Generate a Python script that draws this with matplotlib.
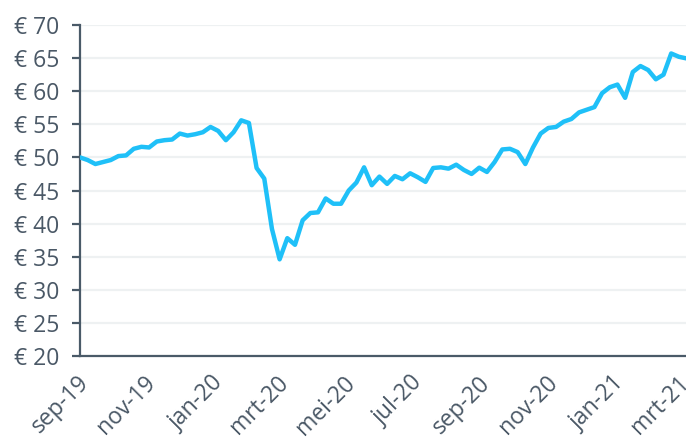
import matplotlib
matplotlib.use("Agg")
import matplotlib.pyplot as plt
import matplotlib.transforms as mtransforms
import pandas as pd

start_date = "2019-09-01"
prices = [
    50.0, 49.6, 49.0, 49.3, 49.6, 50.2, 50.3, 51.3, 51.6, 51.5,
    52.4, 52.6, 52.7, 53.6, 53.3, 53.5, 53.8, 54.6, 54.0, 52.6,
    53.8, 55.6, 55.2, 48.4, 46.8, 39.2, 34.6, 37.8, 36.8, 40.5,
    41.6, 41.7, 43.8, 43.0, 43.0, 45.0, 46.2, 48.5, 45.8, 47.1,
    46.0, 47.2, 46.7, 47.6, 47.0, 46.3, 48.4, 48.5, 48.3, 48.9,
    48.1, 47.5, 48.45, 47.8, 49.3, 51.2, 51.3, 50.8, 49.0, 51.5,
    53.6, 54.45, 54.6, 55.4, 55.8, 56.8, 57.2, 57.6, 59.7, 60.6,
    61.0, 59.0, 62.9, 63.8, 63.2, 61.8, 62.5, 65.7, 65.2, 64.95,
]
dates = pd.date_range(start_date, periods=len(prices), freq="7D")

tick_dates = pd.to_datetime([
    "2019-09-01", "2019-11-01", "2020-01-01", "2020-03-01", "2020-05-01",
    "2020-07-01", "2020-09-01", "2020-11-01", "2021-01-01", "2021-03-01",
])
tick_labels = ["sep-19", "nov-19", "jan-20", "mrt-20", "mei-20",
               "jul-20", "sep-20", "nov-20", "jan-21", "mrt-21"]
x_end = pd.Timestamp("2021-03-06 12:00")
y_ticks = [20, 25, 30, 35, 40, 45, 50, 55, 60, 65, 70]
y_labels = [f"€ {v}" for v in y_ticks]

plt.rcParams["font.family"] = ["Open Sans", "DejaVu Sans"]

fig = plt.figure(figsize=(6.86, 4.37), dpi=100)
ax = fig.add_axes([80 / 686, 1 - 356 / 437, 1 - 80 / 686, (356 - 25) / 437])

text_col = "#4a5866"
spine_col = "#4a5a68"

ax.plot(dates, prices, color="#1fc0f8", lw=3.2, solid_joinstyle="round",
        solid_capstyle="round", zorder=3, clip_on=True)

ax.set_xlim(tick_dates[0], x_end)
ax.set_ylim(20, 70)
ax.set_yticks(y_ticks)
ax.set_yticklabels(y_labels)
ax.set_xticks(tick_dates)
ax.set_xticklabels(tick_labels, rotation=45, ha="right", rotation_mode="anchor")

ax.grid(axis="y", color="#eef1f2", lw=1.6, zorder=0)
ax.grid(axis="x", visible=False)
ax.set_axisbelow(True)

for s in ["top", "right"]:
    ax.spines[s].set_visible(False)
for s in ["left", "bottom"]:
    ax.spines[s].set_color(spine_col)
    ax.spines[s].set_linewidth(1.6)

ax.tick_params(axis="y", length=6, width=1.6, color=spine_col, pad=9,
               labelsize=16.5, labelcolor=text_col)
ax.tick_params(axis="x", length=0, pad=11, labelsize=16.5, labelcolor=text_col)

offset = mtransforms.ScaledTranslation(-3 / 100, 0, fig.dpi_scale_trans)
for lbl in ax.get_xticklabels():
    lbl.set_transform(lbl.get_transform() + offset)

fig.savefig("out.png", dpi=100)
